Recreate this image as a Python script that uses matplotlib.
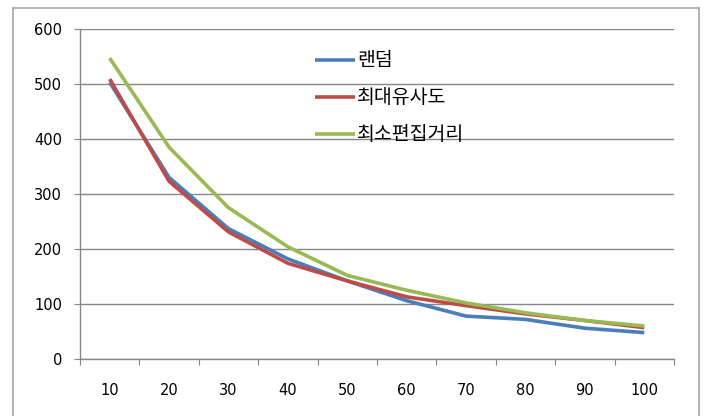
import matplotlib
matplotlib.use("Agg")
import matplotlib.pyplot as plt
from matplotlib.patches import Rectangle

plt.rcParams['font.family'] = ['DejaVu Sans', 'Noto Sans CJK KR']

sizes = [10, 20, 30, 40, 50, 60, 70, 80, 90, 100]
random_vals = [503, 330, 237, 182, 142, 106, 78, 72, 56, 48]
max_sim_vals = [509, 323, 231, 174, 142, 113, 97, 82, 70, 57]
min_edit_vals = [547, 385, 275, 204, 152, 125, 102, 84, 70, 60]
labels = ["랜덤", "최대유사도", "최소편집거리"]
colors = ["#4a7ebb", "#be4b48", "#98b954"]
y_ticks = [0, 100, 200, 300, 400, 500, 600]

W, H = 707, 416
fig = plt.figure(figsize=(W / 100, H / 100), dpi=100)
fig.patch.set_facecolor("white")

# outer chart frame
fig.patches.append(Rectangle((13 / W, -0.05), (699 - 13) / W, 1.05 - 8 / H,
                             transform=fig.transFigure, fill=False,
                             edgecolor="#a6a6a6", linewidth=1.2))

ax = fig.add_axes([80 / W, 1 - 359 / H, (674 - 80) / W, (359 - 29) / H])

for vals, lab, col in zip([random_vals, max_sim_vals, min_edit_vals], labels, colors):
    ax.plot(sizes, vals, color=col, linewidth=2.6, label=lab,
            solid_capstyle="butt", solid_joinstyle="round")

ax.set_ylim(0, 600)
ax.set_yticks(y_ticks)
ax.set_xlim(5, 105)
ax.set_xticks([5 + 10 * i for i in range(11)])
ax.set_xticklabels([])
ax.set_xticks(sizes, minor=True)
ax.set_xticklabels([str(s) for s in sizes], minor=True)

ax.grid(axis="y", color="#868686", linewidth=1)
ax.set_axisbelow(True)
for side in ["top", "right"]:
    ax.spines[side].set_visible(False)
for side in ["left", "bottom"]:
    ax.spines[side].set_color("#868686")
    ax.spines[side].set_linewidth(1)

ax.tick_params(axis="y", which="major", length=4.3, color="#868686",
               labelsize=10.5, pad=8.6)
ax.tick_params(axis="x", which="major", length=4.3, color="#868686", direction="out")
ax.tick_params(axis="x", which="minor", length=0, labelsize=10.5, pad=17)

leg = ax.legend(loc="upper left", bbox_to_anchor=(0.396, 0.935), frameon=False,
                prop={"family": ["Noto Sans CJK KR"], "size": 14},
                handlelength=2.05, handletextpad=0.12,
                labelspacing=0.82, borderpad=0, borderaxespad=0)

fig.savefig("out.png", dpi=100)
